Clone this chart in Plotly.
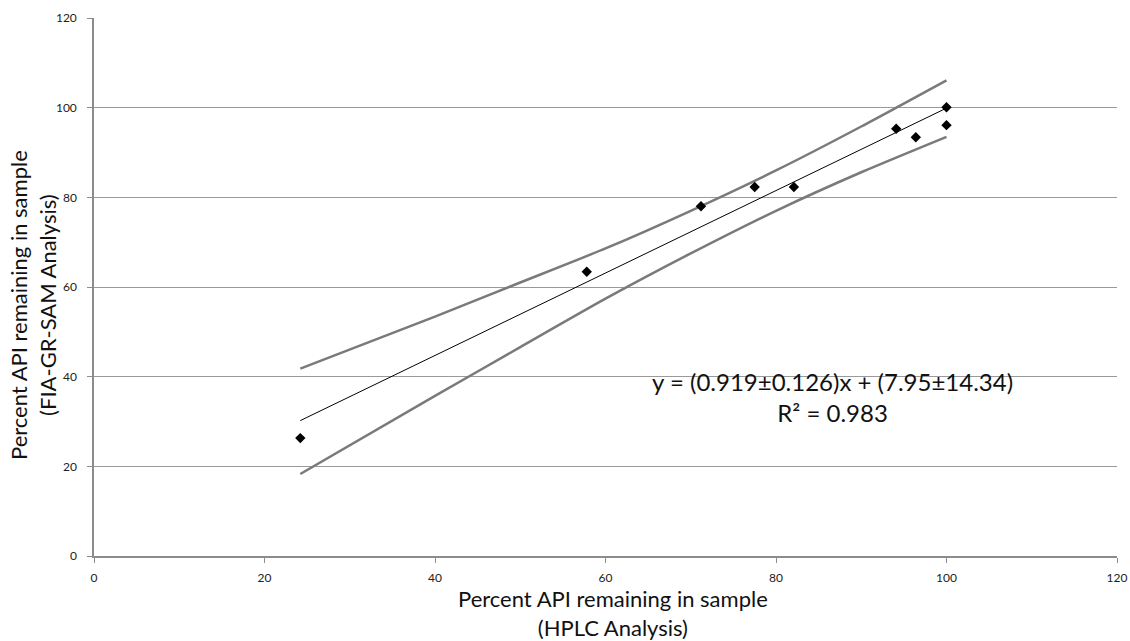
import plotly.graph_objects as go

# Data points
hplc = [24.2, 57.8, 71.2, 77.5, 82.1, 94.1, 96.4, 100.0, 100.0]
fia = [26.3, 63.4, 78.0, 82.3, 82.3, 95.3, 93.4, 100.1, 96.1]

# Fitted line endpoints
fit_x = [24.2, 100.0]
fit_y = [30.2, 99.9]

# Confidence band points
band_x = [24.2, 40, 50, 60, 70, 80, 90, 100]
upper_y = [41.8, 53.4, 61.0, 68.6, 77.0, 86.0, 95.8, 106.1]
lower_y = [18.3, 35.7, 46.6, 57.4, 67.5, 77.0, 85.6, 93.5]

x_ticks = [0, 20, 40, 60, 80, 100, 120]
y_ticks = [0, 20, 40, 60, 80, 100, 120]

FONT = "Lato"
band_color = "#7a7a7a"

fig = go.Figure()
for yy in (upper_y, lower_y):
    fig.add_trace(go.Scatter(x=band_x, y=yy, mode="lines",
                             line=dict(color=band_color, width=2.5, shape="spline", smoothing=0.6),
                             showlegend=False, hoverinfo="skip"))
fig.add_trace(go.Scatter(x=fit_x, y=fit_y, mode="lines",
                         line=dict(color="black", width=1), showlegend=False))
fig.add_trace(go.Scatter(x=hplc, y=fia, mode="markers",
                         marker=dict(symbol="diamond", color="black", size=8),
                         showlegend=False))

fig.update_layout(
    width=1130, height=641,
    margin=dict(l=94, r=13, t=18, b=85, autoexpand=False),
    paper_bgcolor="white", plot_bgcolor="white",
    font=dict(family=FONT, color="#222222"),
    xaxis=dict(range=[0, 120], tickvals=x_ticks, showgrid=False, zeroline=False,
               automargin=False,
               showline=True, linecolor="#8c8c8c", linewidth=1.5,
               ticks="outside", ticklen=5, tickcolor="#8c8c8c",
               ticklabelstandoff=5, tickfont=dict(size=12, family=FONT, color="#222222")),
    yaxis=dict(range=[0, 120], tickvals=y_ticks, showgrid=True, gridcolor="#9a9a9a",
               gridwidth=1, zeroline=False, automargin=False,
               showline=True, linecolor="#8c8c8c", linewidth=1.5,
               ticks="outside", ticklen=5, tickcolor="#8c8c8c",
               ticklabelstandoff=8, tickfont=dict(size=12, family=FONT, color="#222222")),
)

annotations = [
    dict(text="Percent API remaining in sample<br>(HPLC Analysis)",
         x=613, y=641 - 613, showarrow=False,
         font=dict(size=22, family=FONT, color="#111111")),
    dict(text="Percent API remaining in sample<br>(FIA-GR-SAM Analysis)",
         x=33, y=641 - 305, textangle=-90, showarrow=False,
         font=dict(size=22, family=FONT, color="#111111")),
    dict(text="y = (0.919±0.126)x + (7.95±14.34)<br>R² = 0.983",
         x=832, y=641 - 397, showarrow=False,
         font=dict(size=24, family=FONT, color="#111111")),
]
# Convert pixel coordinates to paper coordinates
pw = 1130 - 94 - 13
ph = 641 - 18 - 85
for a in annotations:
    a["xref"] = "paper"
    a["yref"] = "paper"
    a["x"] = (a["x"] - 94) / pw
    a["y"] = (a["y"] - 85) / ph
    a["xanchor"] = "center"
    a["yanchor"] = "middle"
    a["align"] = "center"
fig.update_layout(annotations=annotations)

fig.write_html("out.html")
